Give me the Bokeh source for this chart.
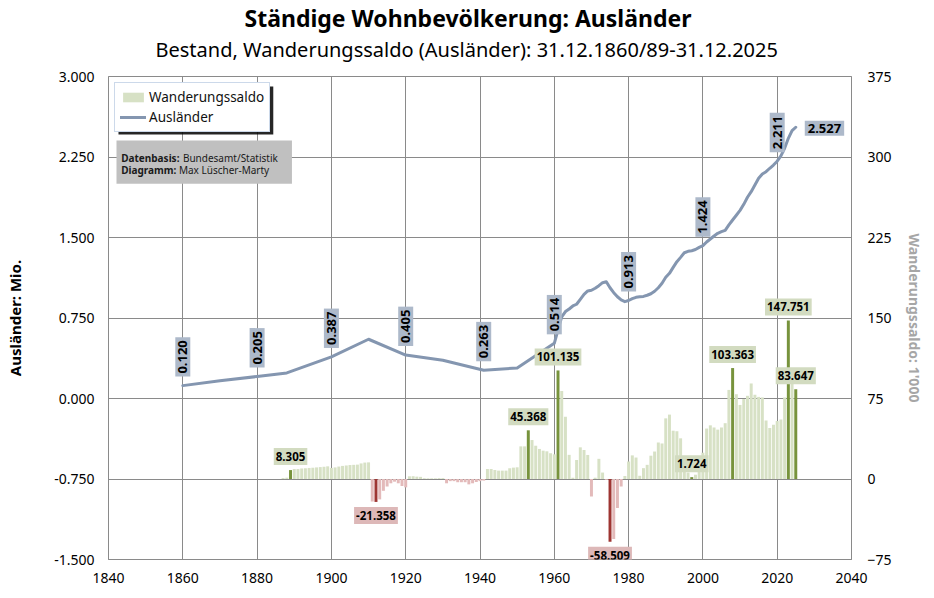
from math import pi
from bokeh.plotting import figure
from bokeh.models import (Range1d, LinearAxis, FixedTicker, PrintfTickFormatter,
                          Label, Legend, LegendItem, ColumnDataSource, Title)
from bokeh.embed import file_html
from bokeh.resources import INLINE

FONT = "Noto Sans"

# ---------------- data ----------------
title_text = "Ständige Wohnbevölkerung: Ausländer"
subtitle_text = "Bestand, Wanderungssaldo (Ausländer): 31.12.1860/89-31.12.2025"

# Stock of foreigners (millions)
stock_years = [1860, 1870, 1880, 1888, 1900, 1910, 1920, 1930, 1941, 1950,
               1960, 1961, 1962, 1963, 1964, 1965, 1966, 1967, 1968, 1969,
               1970, 1971, 1972, 1973, 1974, 1975, 1976, 1977, 1978, 1979,
               1980, 1981, 1982, 1983, 1984, 1985, 1986, 1987, 1988, 1989,
               1990, 1991, 1992, 1993, 1994, 1995, 1996, 1997, 1998, 1999,
               2000, 2001, 2002, 2003, 2004, 2005, 2006, 2007, 2008, 2009,
               2010, 2011, 2012, 2013, 2014, 2015, 2016, 2017, 2018, 2019,
               2020, 2021, 2022, 2023, 2024, 2025]
stock_values = [0.120, 0.166, 0.205, 0.238, 0.387, 0.552, 0.405, 0.356, 0.263, 0.285,
                0.514, 0.640, 0.760, 0.810, 0.834, 0.862, 0.878, 0.924, 0.971, 1.002,
                1.008, 1.027, 1.051, 1.079, 1.088, 1.032, 0.986, 0.948, 0.918, 0.902,
                0.913, 0.930, 0.943, 0.948, 0.951, 0.962, 0.976, 0.999, 1.032, 1.073,
                1.129, 1.166, 1.222, 1.275, 1.315, 1.358, 1.371, 1.377, 1.388, 1.408,
                1.424, 1.458, 1.486, 1.514, 1.539, 1.554, 1.567, 1.617, 1.663, 1.707,
                1.753, 1.809, 1.875, 1.927, 1.989, 2.052, 2.092, 2.113, 2.145, 2.175,
                2.211, 2.260, 2.331, 2.424, 2.495, 2.527]
stock_label_years = [1860, 1880, 1900, 1920, 1941, 1960, 1980, 2000, 2020]
stock_end_year = 2025

# Net migration of foreigners (thousands)
saldo_years = list(range(1887, 2026))
saldo_values = [0.9, 1.2, 8.305, 9.3, 9.3, 9.8, 10.0, 10.3, 10.5, 10.8, 11.1, 11.4, 11.8,
                10.3, 10.8, 11.6, 12.2, 12.6, 13.0, 13.2, 13.4, 14.5, 15.3,
                15.5, -21.0, -21.358, -19.0, -11.0, -7.0, -4.0, -2.5, -4.0, -6.5,
                -7.8, 2.5, 2.6, 2.2, 2.0, 0.7, 0.6, 0.6, 0.6, 0.8,
                0.8, -4.0, -2.0, -2.0, -3.0, -3.0, -3.0, -5.0, -4.0, -2.8,
                -2.0, -1.5, 9.3, 9.3, 8.4, 7.8, 7.8, 7.8, 10.0, 10.6,
                10.9, 30.4, 30.4, 45.368, 36.3, 31.0, 28.0, 26.4, 25.8, 24.0,
                23.0, 101.135, 82.0, 58.0, 22.5, 1.2, 17.7, 29.5, 27.0, 22.4,
                -16.3, 1.2, 18.8, 6.0, -0.8, -58.509, -55.8, -27.0, -7.0, 2.8,
                16.3, 22.0, 20.0, 3.0, 10.1, 13.2, 21.7, 25.6, 34.0, 33.1,
                56.5, 60.0, 45.0, 44.5, 37.9, 15.0, 6.0, 1.724, 4.0, 13.0,
                24.5, 47.0, 50.0, 48.0, 46.0, 48.0, 52.0, 83.0, 103.363, 79.0,
                69.0, 74.5, 77.5, 89.0, 78.5, 76.5, 76.0, 54.5, 47.5, 50.5,
                54.0, 55.5, 76.0, 147.751, 89.0, 83.647]
saldo_highlight_years = [1889, 1912, 1953, 1961, 1975, 1997, 2008, 2023, 2025]

x_ticks = [1840, 1860, 1880, 1900, 1920, 1940, 1960, 1980, 2000, 2020, 2040]
left_ticks = [-1.5, -0.75, 0.0, 0.75, 1.5, 2.25, 3.0]
right_ticks = [-75, 0, 75, 150, 225, 300, 375]

# ---------------- styles ----------------
GRID = "#8a8a8a"
LINE_C = "#8496b0"
STOCK_BOX = "#adb9ca"
LIGHT_G, DARK_G, LABEL_G = "#d7e1c5", "#77933c", "#d2dbc0"
LIGHT_R, DARK_R, LABEL_R = "#e3baba", "#9e3532", "#ddb8b8"

W, H = 926, 590
FR_L, FR_R, FR_T, FR_B = 108, 852, 76, 559


def fx(px):
    return 1840 + (px - FR_L) * 200.0 / (FR_R - FR_L)


def fy(py):
    return 3.0 - (py - FR_T) * 4.5 / (FR_B - FR_T)


p = figure(width=W, height=H, x_range=Range1d(1840, 2040), y_range=Range1d(-1.5, 3.0),
           output_backend="svg", toolbar_location=None, title=None,
           min_border_left=FR_L, min_border_right=W - FR_R,
           min_border_top=FR_T, min_border_bottom=H - FR_B,
           outline_line_color=GRID, background_fill_color="white",
           border_fill_color="white")
p.extra_y_ranges = {"saldo": Range1d(-75, 375)}

# title stack (first added is nearest to the frame): spacer, subtitle, title
p.add_layout(Title(text=" ", text_font_size="1px", standoff=10), "above")
p.add_layout(Title(text=subtitle_text, align="left", vertical_align="middle",
                   offset=47, standoff=0, text_font=FONT, text_font_size="20px",
                   text_font_style="normal", text_color="black"), "above")
p.add_layout(Title(text=title_text, align="left", vertical_align="middle",
                   offset=136, standoff=0, text_font=FONT, text_font_size="23px",
                   text_font_style="bold", text_color="black"), "above")

# axes
for ax in (p.xaxis[0], p.yaxis[0]):
    ax.axis_line_color = GRID
    ax.major_tick_line_color = None
    ax.minor_tick_line_color = None
    ax.major_tick_out = 0
    ax.major_tick_in = 0
    ax.minor_tick_out = 0
    ax.major_label_text_font = FONT
    ax.major_label_text_font_size = "14px"
    ax.major_label_text_color = "black"

p.xaxis.ticker = FixedTicker(ticks=x_ticks)
p.xaxis.major_label_standoff = 13
p.yaxis.ticker = FixedTicker(ticks=left_ticks)
p.yaxis.formatter = PrintfTickFormatter(format="%.3f")
p.yaxis.major_label_standoff = 14
p.yaxis.axis_label = "Ausländer: Mio."
p.yaxis.axis_label_text_font = FONT
p.yaxis.axis_label_text_font_size = "15px"
p.yaxis.axis_label_text_font_style = "bold"
p.yaxis.axis_label_text_color = "black"
p.yaxis.axis_label_standoff = 26

ax_r = LinearAxis(y_range_name="saldo", ticker=FixedTicker(ticks=right_ticks),
                  axis_label="Wanderungssaldo: 1'000")
ax_r.axis_line_color = GRID
ax_r.major_tick_line_color = None
ax_r.minor_tick_line_color = None
ax_r.major_tick_out = 0
ax_r.major_tick_in = 0
ax_r.minor_tick_out = 0
ax_r.major_label_text_font = FONT
ax_r.major_label_text_font_size = "14px"
ax_r.major_label_text_color = "black"
ax_r.major_label_standoff = 16
ax_r.axis_label_text_font = FONT
ax_r.axis_label_text_font_size = "14px"
ax_r.axis_label_text_font_style = "bold"
ax_r.axis_label_text_color = "#a6a6a6"
ax_r.axis_label_standoff = 10
p.add_layout(ax_r, "right")

p.xgrid.ticker = FixedTicker(ticks=x_ticks)
p.ygrid.ticker = FixedTicker(ticks=left_ticks)
p.grid.grid_line_color = GRID
p.grid.grid_line_width = 1

# ---------------- bars ----------------
bar_colors = []
for yr, v in zip(saldo_years, saldo_values):
    hi = yr in saldo_highlight_years
    if v >= 0:
        bar_colors.append(DARK_G if hi else LIGHT_G)
    else:
        bar_colors.append(DARK_R if hi else LIGHT_R)

bar_src = ColumnDataSource(dict(x=saldo_years, top=saldo_values, color=bar_colors))
bars = p.vbar(x="x", top="top", bottom=0, width=0.8, fill_color="color",
              line_color=None, source=bar_src, y_range_name="saldo")

# ---------------- stock line ----------------
line_src = ColumnDataSource(dict(x=stock_years, y=stock_values))
line = p.line(x="x", y="y", source=line_src, line_color=LINE_C, line_width=3,
              line_join="round", line_cap="round")

# ---------------- legend shadow and info box ----------------
p.quad(left=fx(118), right=fx(273), top=fy(86), bottom=fy(134),
       fill_color="black", line_color=None, fill_alpha=0.85)
p.quad(left=fx(116), right=fx(291.7), top=fy(140), bottom=fy(183.3),
       fill_color="#c0c0c0", line_color=None)

legend = Legend(items=[LegendItem(label="Wanderungssaldo", renderers=[bars], index=5),
                       LegendItem(label="Ausländer", renderers=[line])],
                location="top_left", margin=6, padding=5, spacing=2,
                glyph_width=26, glyph_height=12, label_standoff=3, label_height=18,
                label_text_font=FONT, label_text_font_size="13.5px",
                label_text_color="#111111",
                border_line_color="#9ab3d5", border_line_width=1,
                background_fill_color="white", background_fill_alpha=1.0)
p.add_layout(legend, "center")

for ytxt, bold_t, norm_t, xn in [(157.3, "Datenbasis:", "Bundesamt/Statistik", 182.5),
                                 (169.3, "Diagramm:", "Max Lüscher-Marty", 178.5)]:
    p.add_layout(Label(x=fx(120.7), y=fy(ytxt), text=bold_t, text_font=FONT,
                       text_font_size="10px", text_font_style="bold",
                       text_align="left", text_baseline="middle", text_color="#1a1a1a"))
    p.add_layout(Label(x=fx(xn), y=fy(ytxt), text=norm_t, text_font=FONT,
                       text_font_size="10px", text_align="left",
                       text_baseline="middle", text_color="#1a1a1a"))

# ---------------- value labels ----------------
stock_map = dict(zip(stock_years, stock_values))
for yr in stock_label_years:
    v = stock_map[yr]
    p.add_layout(Label(x=yr, y=v, text=f"{v:.3f}", angle=pi / 2,
                       text_align="left", text_baseline="middle",
                       y_offset=9, text_font=FONT, text_font_size="13px",
                       text_font_style="bold", text_color="black",
                       background_fill_color=STOCK_BOX, padding=3))
v_end = stock_map[stock_end_year]
p.add_layout(Label(x=stock_end_year, y=v_end, text=f"{v_end:.3f}",
                   text_align="left", text_baseline="middle", x_offset=9, y_offset=-1,
                   text_font=FONT, text_font_size="13px", text_font_style="bold",
                   text_color="black", background_fill_color=STOCK_BOX, padding=3))

saldo_map = dict(zip(saldo_years, saldo_values))
for yr in saldo_highlight_years:
    v = saldo_map[yr]
    pos = v >= 0
    p.add_layout(Label(x=yr, y=v, y_range_name="saldo", text=f"{v:.3f}",
                       text_align="center", text_baseline="bottom" if pos else "top",
                       y_offset=5 if pos else -5, text_font=FONT, text_font_size="11.5px",
                       text_font_style="bold", text_color="black",
                       background_fill_color=LABEL_G if pos else LABEL_R,
                       padding=(2, 4)))

open("out.html", "w").write(file_html(p, INLINE))
